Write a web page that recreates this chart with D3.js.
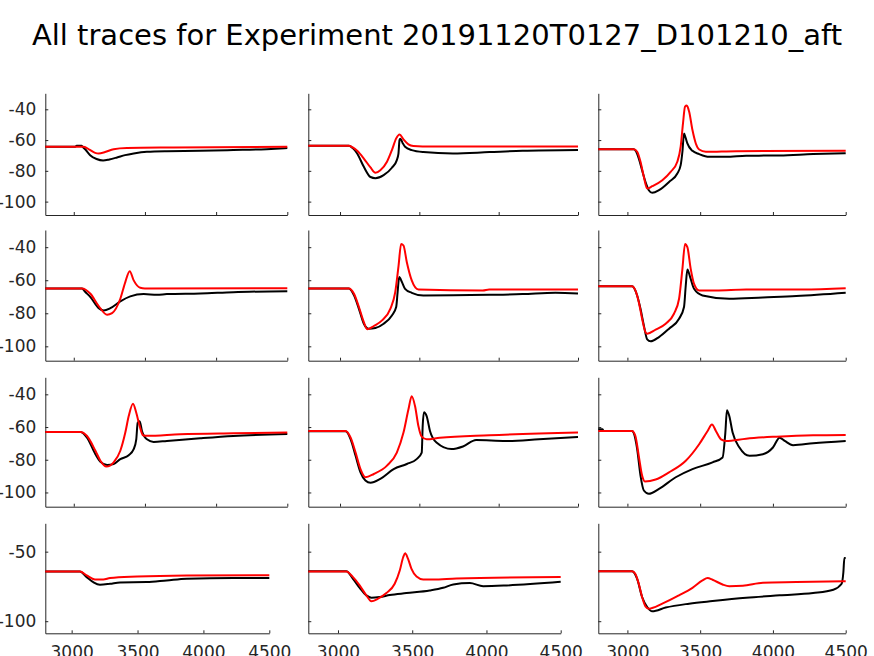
<!DOCTYPE html>
<html><head><meta charset="utf-8">
<script src="https://cdn.jsdelivr.net/npm/d3@7"></script>
<style>
html,body{margin:0;padding:0;background:#fff;}
svg{display:block;font-family:"DejaVu Sans",sans-serif;}
</style></head>
<body>
<svg id="chart" width="874" height="656"></svg>
<script>
// ---------- data ----------
const titleText = "All traces for Experiment 20191120T0127_D101210_aft";
const xLim = [2800, 4500];
const yLim = [-108.7, -29.6];
const xTicks = [3000, 3500, 4000, 4500];
const yTicks = [-100, -80, -60, -40];
const yTicksLastRow = [-100, -50];

// Each trace: [time, voltage]
const r1c1_black = [[2800,-64.3],[3010,-64.3],[3020,-63.7],[3055,-63.7],[3062,-64.3],[3080,-66],[3115,-69.8],[3160,-72.3],[3206,-73.3],[3250,-72.6],[3304,-71.3],[3360,-69.8],[3421,-68.7],[3514,-67.6],[3654,-67.2],[3888,-67.0],[4121,-66.5],[4355,-65.9],[4500,-65.2]];
const r1c1_red = [[2800,-64.3],[3070,-64.3],[3110,-66.2],[3150,-68.3],[3175,-68.7],[3220,-67.8],[3280,-65.9],[3374,-65.2],[3700,-64.8],[4500,-64.3]];

const r1c2_black = [[2800,-63.7],[3056,-63.7],[3080,-65.2],[3108,-68.7],[3150,-77.4],[3192,-84.0],[3223,-84.8],[3275,-82.8],[3327,-78],[3358,-73],[3368,-69],[3375,-60],[3380,-59.1],[3395,-62],[3410,-64.3],[3452,-66.5],[3525,-67.8],[3712,-68.7],[3942,-67.8],[4150,-67.0],[4500,-66.5]];
const r1c2_red = [[2800,-63.7],[3056,-63.7],[3080,-64.8],[3108,-67],[3150,-72],[3192,-77.8],[3223,-81.3],[3254,-79.6],[3296,-74.1],[3327,-66.5],[3354,-58.9],[3375,-56.3],[3400,-59.6],[3431,-62.8],[3462,-63.9],[3520,-64.1],[4500,-64.1]];

const r1c3_black = [[2800,-65.9],[3044,-65.9],[3060,-67.5],[3078,-72],[3101,-79.6],[3124,-87.2],[3147,-92.6],[3171,-94.3],[3217,-92.6],[3286,-87.2],[3343,-81.7],[3366,-76.3],[3378,-67.6],[3389,-55.7],[3400,-58.5],[3412,-62.2],[3447,-67.0],[3493,-69.1],[3562,-70.9],[3677,-70.9],[3816,-70.2],[4046,-70],[4276,-69.1],[4500,-68.5]];
const r1c3_red = [[2800,-65.9],[3044,-65.9],[3067,-67.6],[3090,-74.1],[3113,-83.9],[3136,-91.5],[3171,-90],[3240,-86.1],[3297,-80.7],[3343,-74.1],[3366,-64.3],[3382,-49.1],[3396,-38.3],[3408,-37.6],[3424,-41.5],[3447,-53.5],[3470,-62.2],[3493,-66.1],[3539,-67.6],[3747,-67.2],[4500,-67.0]];

const r2c1_black = [[2800,-65],[3058,-65],[3080,-67],[3117,-70.2],[3175,-76.9],[3210,-78.3],[3257,-76.9],[3327,-72.8],[3397,-69.8],[3491,-68.4],[3584,-68.8],[3654,-68.4],[3888,-68],[4121,-67.2],[4500,-66.6]];
const r2c1_red = [[2800,-65],[3058,-65],[3117,-68.2],[3175,-75.6],[3234,-80.9],[3269,-79.9],[3327,-71.2],[3362,-61.1],[3393,-54.5],[3421,-60.1],[3467,-64.6],[3500,-65],[4500,-64.8]];

const r2c2_black = [[2800,-65],[3056,-65],[3088,-69.2],[3119,-77.3],[3150,-86.3],[3181,-89.3],[3223,-88.9],[3275,-86.3],[3327,-81.3],[3354,-76.2],[3363,-67.2],[3373,-58.1],[3390,-61.1],[3410,-65.2],[3452,-67.6],[3525,-69.2],[3942,-68.8],[4150,-68.4],[4358,-67.6],[4500,-68.0]];
const r2c2_red = [[2800,-65],[3056,-65],[3088,-68.2],[3119,-76.2],[3150,-85.3],[3171,-89.7],[3213,-87.7],[3265,-84.3],[3317,-77.3],[3348,-67.2],[3369,-51.1],[3385,-38],[3400,-39],[3421,-49.1],[3452,-60.1],[3494,-65.6],[3900,-66.2],[3940,-65.6],[4500,-65.6]];

const r2c3_black = [[2800,-63.6],[3032,-63.6],[3067,-69.2],[3090,-77.3],[3113,-87.3],[3136,-95.8],[3159,-97],[3217,-94.4],[3286,-89.3],[3355,-83.3],[3389,-76.2],[3401,-63.2],[3412,-53.5],[3431,-58.1],[3458,-65.2],[3516,-69.2],[3700,-71.2],[3931,-70.4],[4161,-69.6],[4500,-67.6]];
const r2c3_red = [[2800,-63.6],[3032,-63.6],[3055,-66.2],[3078,-73.2],[3101,-83.3],[3124,-91.4],[3136,-92.4],[3194,-89.9],[3263,-86.3],[3320,-80.3],[3355,-71.2],[3378,-53.1],[3396,-38],[3412,-40],[3435,-53.1],[3458,-62.2],[3493,-66.2],[3608,-66.2],[3816,-65.6],[4207,-65.6],[4500,-64.8]];

const r3c1_black = [[2800,-63],[3047,-63],[3093,-66.5],[3152,-76.6],[3187,-81.2],[3234,-83.2],[3280,-82.6],[3327,-79.6],[3386,-77.2],[3421,-73.5],[3439,-67.5],[3449,-57.4],[3463,-56.4],[3479,-62.4],[3514,-67.5],[3561,-69.1],[3654,-68.5],[3888,-66.9],[4121,-65.5],[4500,-64.2]];
const r3c1_red = [[2800,-63],[3047,-63],[3093,-65.5],[3152,-74.5],[3187,-80.6],[3229,-84.2],[3280,-81.6],[3327,-74.5],[3362,-63.4],[3386,-53.3],[3416,-45.7],[3439,-51.3],[3463,-59.4],[3486,-65],[3514,-65.4],[3748,-64.4],[4121,-63.8],[4500,-63.4]];

const r3c2_black = [[2800,-62.6],[3035,-62.6],[3067,-67.5],[3098,-77.6],[3129,-87.7],[3160,-92.7],[3192,-94.1],[3254,-91.7],[3338,-85.7],[3421,-82.6],[3483,-79.6],[3515,-75.6],[3521,-59.4],[3529,-50.9],[3546,-53.3],[3567,-62.4],[3608,-69.5],[3702,-73.5],[3775,-71.9],[3858,-67.9],[4046,-68.5],[4254,-67.5],[4500,-66.1]];
const r3c2_red = [[2800,-62.4],[3035,-62.4],[3067,-66.5],[3098,-75.6],[3129,-85.7],[3160,-90.7],[3213,-88.7],[3296,-83.6],[3358,-75.6],[3400,-63.4],[3431,-49.3],[3452,-41.2],[3473,-47.3],[3494,-59.4],[3515,-65.9],[3546,-67.5],[3629,-66.5],[3942,-65],[4500,-63.4]];

const r3c3_black = [[2800,-61.4],[2830,-61.4],[2835,-62.4],[3032,-62.4],[3044,-63.8],[3067,-73.5],[3090,-89.7],[3113,-98.8],[3147,-100.8],[3217,-97.8],[3332,-90.7],[3447,-85.7],[3585,-81.6],[3654,-78.6],[3673,-63.4],[3684,-49.7],[3700,-53.3],[3723,-63.4],[3770,-72.5],[3839,-77.6],[3931,-76.6],[4000,-72.5],[4046,-66.5],[4081,-68.5],[4138,-71.1],[4276,-69.9],[4500,-68.5]];
const r3c3_red = [[2800,-62.4],[3032,-62.4],[3055,-65.5],[3078,-77.6],[3101,-89.7],[3120,-93.3],[3194,-92.1],[3286,-87.7],[3401,-80.6],[3493,-70.5],[3551,-62.4],[3581,-58.4],[3608,-62.4],[3643,-67.5],[3677,-68.5],[3816,-67.1],[4023,-65.9],[4276,-65],[4500,-64.8]];

const r4c1_black = [[2800,-64.3],[3063,-64.3],[3114,-68.3],[3164,-71.9],[3215,-73.8],[3291,-73.1],[3367,-72.1],[3569,-71.9],[3721,-70.7],[3873,-69.5],[4226,-69],[4500,-69]];
const r4c1_red = [[2800,-64.3],[3063,-64.3],[3114,-67.1],[3177,-70],[3240,-70],[3291,-69],[3497,-67.9],[3873,-67.1],[4500,-66.9]];

const r4c2_black = [[2800,-64.1],[3056,-64.1],[3101,-69.5],[3146,-76],[3191,-81.4],[3225,-83.1],[3281,-82.6],[3349,-81.2],[3461,-79.8],[3618,-77.9],[3708,-76],[3776,-73.6],[3888,-72.6],[3978,-74.8],[4136,-74.3],[4500,-71.7]];
const r4c2_red = [[2800,-64.3],[3056,-64.3],[3101,-68.3],[3146,-74.3],[3191,-81.4],[3225,-85.7],[3270,-83.8],[3326,-79.8],[3382,-73.1],[3416,-63.6],[3439,-54],[3452,-51.2],[3472,-55.2],[3495,-62.4],[3529,-67.9],[3574,-70],[3641,-70],[3798,-69.3],[4500,-68.3]];

const r4c3_black = [[2800,-64],[3032,-64],[3067,-69.5],[3101,-82.6],[3136,-89.8],[3171,-92.9],[3263,-90.2],[3424,-87.4],[3585,-85.5],[3816,-83.1],[4046,-81.4],[4276,-79.8],[4415,-77.4],[4472,-73.1],[4484,-64.8],[4491,-54.5],[4500,-54.5]];
const r4c3_red = [[2800,-64],[3032,-64],[3055,-66],[3078,-73.1],[3101,-82.6],[3124,-89.3],[3147,-91],[3240,-87.4],[3355,-81.4],[3447,-76],[3516,-70.7],[3551,-69],[3585,-70.2],[3654,-73.6],[3700,-74.8],[3793,-74.5],[3931,-72.4],[4161,-71.9],[4500,-71.2]];

const blackTraces = [[r1c1_black, r1c2_black, r1c3_black],[r2c1_black, r2c2_black, r2c3_black],[r3c1_black, r3c2_black, r3c3_black],[r4c1_black, r4c2_black, r4c3_black]];
const redTraces = [[r1c1_red, r1c2_red, r1c3_red],[r2c1_red, r2c2_red, r2c3_red],[r3c1_red, r3c2_red, r3c3_red],[r4c1_red, r4c2_red, r4c3_red]];

// ---------- layout ----------
const rowBoxes = [[93.3, 215],[230, 360.7],[377.3, 506.7],[523.3, 633.3]];
const colBoxes = [[45.3, 287.3],[308.3, 578],[598.3, 845.7]];
const lastRowRight = [269.3, 560.7, 845.7];

const svg = d3.select("#chart");
svg.append("text")
  .attr("x", 437).attr("y", 45)
  .attr("text-anchor", "middle")
  .attr("font-size", 29)
  .attr("fill", "#000")
  .text(titleText);

const axisColor = "#262626";
const fmt = d => String(d); // plain hyphen-minus like the reference
for (let r = 0; r < 4; r++) {
  for (let c = 0; c < 3; c++) {
    const [top, bottom] = rowBoxes[r];
    const left = colBoxes[c][0];
    const right = r === 3 ? lastRowRight[c] : colBoxes[c][1];
    const x = d3.scaleLinear().domain(xLim).range([left, right]);
    const y = d3.scaleLinear().domain(yLim).range([bottom, top]);
    const g = svg.append("g");

    const yAxis = d3.axisLeft(y).tickValues(r === 3 ? yTicksLastRow : yTicks)
      .tickSizeInner(-3).tickSizeOuter(0).tickPadding(9)
      .tickFormat(c === 0 ? fmt : () => "");
    const xAxis = d3.axisBottom(x).tickValues(xTicks)
      .tickSizeInner(-3).tickSizeOuter(0).tickPadding(13)
      .tickFormat(r === 3 ? fmt : () => "");

    const ga = g.append("g").attr("transform", `translate(${left},0)`).call(yAxis);
    const gb = g.append("g").attr("transform", `translate(0,${bottom})`).call(xAxis);
    [ga, gb].forEach(a => {
      a.select(".domain").attr("stroke", axisColor).attr("stroke-width", 1);
      a.selectAll(".tick line").attr("stroke", axisColor);
      a.selectAll(".tick text").attr("fill", axisColor)
        .attr("font-size", 17).attr("font-family", "DejaVu Sans, sans-serif");
    });

    const line = d3.line().x(d => x(d[0])).y(d => y(d[1])).curve(d3.curveMonotoneX);
    g.append("path").datum(blackTraces[r][c]).attr("d", line)
      .attr("fill", "none").attr("stroke", "#000").attr("stroke-width", 2)
      .attr("stroke-linejoin", "round");
    g.append("path").datum(redTraces[r][c]).attr("d", line)
      .attr("fill", "none").attr("stroke", "#ff0000").attr("stroke-width", 2)
      .attr("stroke-linejoin", "round");
  }
}
</script>
</body></html>
